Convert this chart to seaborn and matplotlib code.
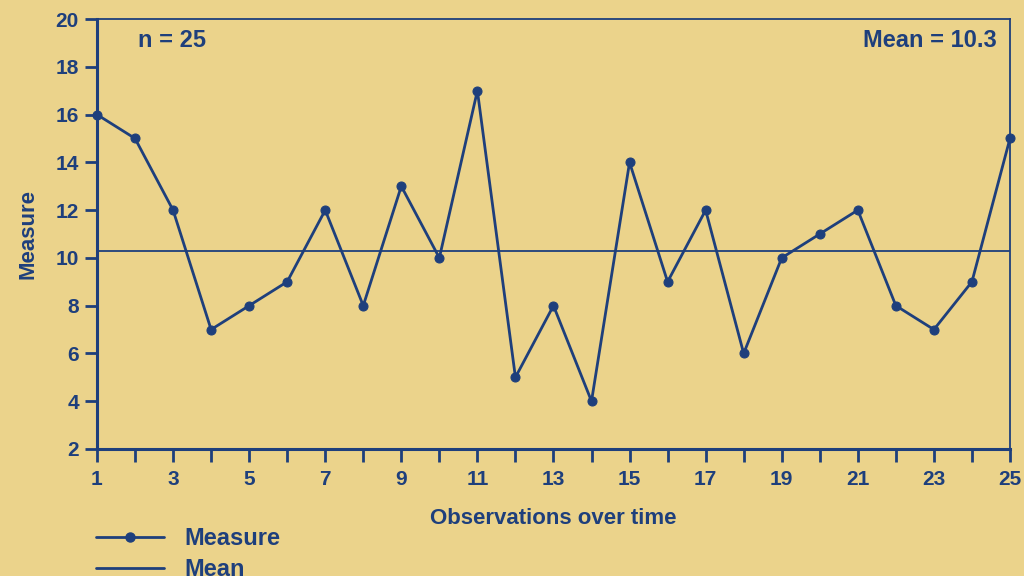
import numpy as np
import pandas as pd
import seaborn as sns
import matplotlib.pyplot as plt
from matplotlib.lines import Line2D

# observations
observations = list(range(1, 26))
measure = [16, 15, 12, 7, 8, 9, 12, 8, 13, 10, 17, 5, 8, 4, 14, 9, 12, 6, 10, 11, 12, 8, 7, 9, 15]
y_ticks = [2, 4, 6, 8, 10, 12, 14, 16, 18, 20]
x_labels = [1, 3, 5, 7, 9, 11, 13, 15, 17, 19, 21, 23, 25]

BG = '#EBD38B'
NAVY = '#1E3F7C'

df = pd.DataFrame({'obs': observations, 'measure': measure})
mean_val = np.mean(measure)

sns.set_style('white')
plt.rcParams['font.family'] = ['Liberation Sans', 'DejaVu Sans']
plt.rcParams['font.weight'] = 'bold'

fig = plt.figure(figsize=(10.24, 5.76), dpi=100, facecolor=BG)
ax = fig.add_axes([0.0947, 0.2205, 0.8916, 0.7465])
ax.set_facecolor(BG)

sns.lineplot(data=df, x='obs', y='measure', ax=ax, color=NAVY, lw=2,
             marker='o', markersize=6.5, markeredgecolor=NAVY, zorder=3, clip_on=False)
ax.axhline(mean_val, color=NAVY, lw=1.3)

ax.set_xlim(1, 25)
ax.set_ylim(2, 20)
ax.set_yticks(y_ticks)
ax.set_xticks(observations)
ax.set_xticklabels([str(o) if o in x_labels else '' for o in observations])

for s in ['left', 'bottom']:
    ax.spines[s].set_color(NAVY)
    ax.spines[s].set_linewidth(2.2)
for s in ['top', 'right']:
    ax.spines[s].set_color(NAVY)
    ax.spines[s].set_linewidth(1.3)

ax.tick_params(axis='both', bottom=True, left=True, colors=NAVY, labelsize=15,
               length=9, width=2, direction='out')
ax.tick_params(axis='x', pad=6)
ax.tick_params(axis='y', pad=4)
for lab in ax.get_xticklabels() + ax.get_yticklabels():
    lab.set_fontweight('bold')

ax.set_xlabel('Observations over time', fontsize=16, color=NAVY, fontweight='bold', labelpad=14)
ax.set_ylabel('Measure', fontsize=16, color=NAVY, fontweight='bold', labelpad=12)

ax.text(0.045, 0.95, 'n = 25', transform=ax.transAxes, fontsize=17, color=NAVY,
        fontweight='bold', ha='left', va='center')
ax.text(0.985, 0.95, f'Mean = {mean_val:.1f}', transform=ax.transAxes, fontsize=17,
        color=NAVY, fontweight='bold', ha='right', va='center')

handles = [Line2D([0], [0], color=NAVY, lw=2, marker='o', markersize=6.5),
           Line2D([0], [0], color=NAVY, lw=2)]
leg = fig.legend(handles, ['Measure', 'Mean'], loc='upper left',
                 bbox_to_anchor=(0.073, 0.122), frameon=False, handlelength=2.9,
                 handletextpad=0.85, labelspacing=0.35,
                 prop={'size': 17, 'weight': 'bold'})
for t in leg.get_texts():
    t.set_color(NAVY)

fig.savefig('out.png', dpi=100, facecolor=BG)
